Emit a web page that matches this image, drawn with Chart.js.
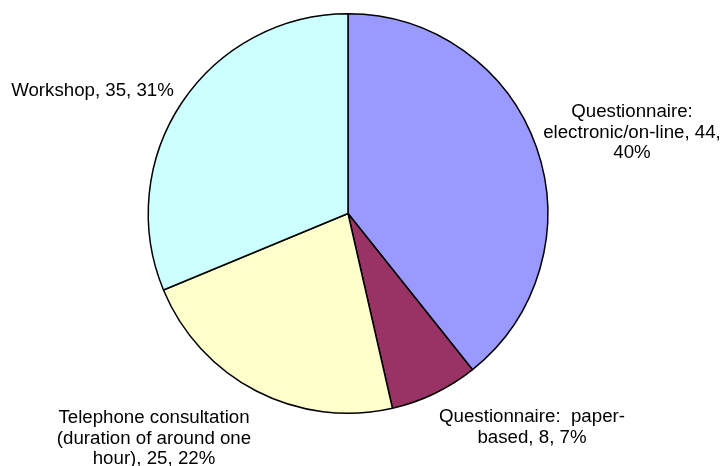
<!DOCTYPE html>
<html>
<head>
<meta charset="utf-8">
<title>Consultation methods</title>
<script src="https://cdn.jsdelivr.net/npm/chart.js@4.4.1/dist/chart.umd.min.js"></script>
<style>
  html, body { margin: 0; padding: 0; background: #ffffff; }
  #wrap { width: 722px; height: 466px; }
</style>
</head>
<body>
<div id="wrap"><canvas id="pieChart" width="722" height="466"></canvas></div>
<script>
/* DATA */
var categories = [
  "Questionnaire: electronic/on-line",
  "Questionnaire:  paper-based",
  "Telephone consultation (duration of around one hour)",
  "Workshop"
];
var counts = [44, 8, 25, 35];
var percents = [40, 7, 22, 31];
var sliceColors = ["#9999ff", "#993366", "#ffffcc", "#ccffff"];
/* DATA */

/* label layout: offset of first line from pie centre, wrap width */
var labelOffsets = [[284, -96.5], [184, 208.5], [-194, 209.5], [-255.5, -117.5]];
var labelWrap = [185, 200, 195, 300];
var lineHeight = 20.5;

function wrapText(ctx, text, maxW) {
  var tokens = text.match(/ +|[^ -]+-?|-/g);
  var lines = [];
  var current = "";
  var pending = "";
  for (var i = 0; i < tokens.length; i++) {
    var t = tokens[i];
    if (t.trim() === "") { pending += t; continue; }
    var candidate = current + pending + t;
    if (current !== "" && ctx.measureText(candidate).width > maxW) {
      lines.push(current);
      current = t;
    } else {
      current = candidate;
    }
    pending = "";
  }
  if (current !== "") lines.push(current);
  return lines;
}

var sliceLabels = {
  id: "sliceLabels",
  afterDraw: function (chart) {
    var ctx = chart.ctx;
    var arcs = chart.getDatasetMeta(0).data;
    ctx.save();
    ctx.font = "18.7px 'Liberation Sans', Arial, sans-serif";
    ctx.fillStyle = "#000000";
    ctx.textAlign = "center";
    ctx.textBaseline = "alphabetic";
    for (var i = 0; i < arcs.length; i++) {
      var cx = arcs[i].x, cy = arcs[i].y;
      var txt = categories[i] + ", " + counts[i] + ", " + percents[i] + "%";
      var lines = wrapText(ctx, txt, labelWrap[i]);
      for (var j = 0; j < lines.length; j++) {
        ctx.fillText(lines[j], cx + labelOffsets[i][0], cy + labelOffsets[i][1] + j * lineHeight);
      }
    }
    ctx.restore();
  }
};

var ctx = document.getElementById("pieChart");
var myChart = new Chart(ctx, {
  type: "pie",
  data: {
    labels: categories,
    datasets: [{
      data: counts,
      backgroundColor: sliceColors,
      borderColor: "#000000",
      borderWidth: 1.5
    }]
  },
  options: {
    responsive: false,
    animation: false,
    layout: { padding: { top: 13, bottom: 52, left: 0, right: 26 } },
    plugins: {
      legend: { display: false },
      tooltip: { enabled: false }
    }
  },
  plugins: [sliceLabels]
});
</script>
</body>
</html>
